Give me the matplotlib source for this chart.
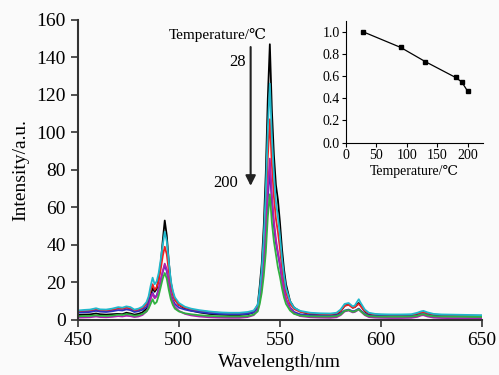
import matplotlib
matplotlib.use('Agg')
import matplotlib.pyplot as plt

plt.rcParams['font.family'] = ['Liberation Serif', 'DejaVu Serif']

# wavelength grid (nm)
wavelength = [450, 453, 456, 459, 461, 464, 467, 470, 472, 474,
              476, 478, 480, 482, 484, 485, 486, 487, 488, 489,
              490, 491, 492, 493, 494, 495, 496, 497, 498, 500,
              503, 506, 510, 515, 520, 525, 530, 534, 537, 539,
              540, 541, 542, 543, 544, 545, 546, 547, 548, 549,
              550, 551, 552, 553, 555, 557, 560, 565, 570, 575,
              578, 580, 582, 584, 586, 587, 589, 590, 592, 594,
              597, 600, 605, 610, 615, 618, 620, 621, 623, 626,
              630, 635, 640, 645, 650]

# emission spectra at each temperature
int_28 = [2.6, 2.8, 2.9, 3.4, 3.0, 2.8, 3.0, 3.2, 3.0, 3.8,
          3.4, 2.8, 3.2, 4.0, 6.0, 8.5, 13.0, 17.0, 15.0, 16.5,
          22.0, 30.0, 42.0, 53.0, 45.0, 31.0, 20.0, 14.5, 11.0, 8.0,
          6.0, 5.0, 4.0, 3.2, 2.8, 2.6, 2.6, 3.0, 4.0, 8.0,
          18.0, 30.0, 50.0, 78.0, 118.0, 147.0, 112.0, 88.0, 72.0, 64.0,
          52.0, 38.0, 27.0, 19.0, 10.0, 6.5, 4.5, 3.0, 2.6, 2.5,
          3.0, 4.5, 7.5, 8.5, 6.5, 6.8, 9.0, 7.5, 4.5, 3.0,
          2.5, 2.3, 2.2, 2.2, 2.3, 3.0, 4.0, 4.2, 3.5, 2.5,
          2.2, 2.0, 2.0, 1.9, 1.8]
int_90 = [5.0, 5.3, 5.5, 6.2, 5.6, 5.5, 6.0, 6.8, 6.5, 7.2,
          6.8, 5.5, 6.0, 7.0, 9.5, 12.5, 18.0, 22.5, 19.0, 20.5,
          25.0, 32.0, 40.0, 47.0, 42.0, 31.0, 21.0, 15.5, 12.0, 9.0,
          7.0, 6.0, 5.2, 4.5, 4.0, 3.8, 3.8, 4.2, 5.0, 8.0,
          16.0, 27.0, 44.0, 68.0, 102.0, 126.0, 98.0, 78.0, 63.0, 55.0,
          45.0, 33.0, 24.0, 17.0, 10.0, 6.5, 4.8, 3.8, 3.5, 3.4,
          3.8, 5.5, 8.5, 9.0, 7.2, 7.6, 11.0, 9.0, 5.5, 3.8,
          3.2, 3.0, 2.9, 2.9, 3.0, 3.8, 4.6, 4.8, 4.0, 3.2,
          2.9, 2.8, 2.7, 2.6, 2.5]
int_130 = [4.4, 4.6, 4.8, 5.4, 5.0, 4.8, 5.3, 6.0, 5.8, 6.5,
           6.0, 4.8, 5.3, 6.2, 8.5, 11.0, 15.5, 19.0, 16.0, 17.5,
           21.0, 27.0, 34.0, 39.0, 35.0, 26.0, 18.0, 13.5, 10.5, 8.0,
           6.5, 5.5, 4.8, 4.2, 3.8, 3.5, 3.5, 3.8, 4.5, 7.0,
           13.5, 23.0, 37.0, 58.0, 87.0, 107.0, 83.0, 66.0, 54.0, 47.0,
           38.0, 28.0, 20.0, 14.5, 8.5, 5.8, 4.3, 3.4, 3.1, 3.0,
           3.4, 4.8, 7.5, 8.0, 6.5, 6.8, 8.5, 7.3, 4.8, 3.4,
           2.9, 2.7, 2.6, 2.6, 2.7, 3.3, 3.9, 4.0, 3.4, 2.8,
           2.6, 2.5, 2.4, 2.3, 2.2]
int_180 = [1.2, 1.3, 1.4, 1.8, 1.5, 1.4, 1.6, 2.0, 1.8, 2.2,
           2.0, 1.5, 1.8, 2.6, 4.5, 7.0, 11.0, 14.0, 11.5, 12.5,
           16.0, 21.0, 26.0, 30.0, 27.0, 20.0, 13.5, 9.5, 7.0, 4.8,
           3.2, 2.4, 1.8, 1.4, 1.2, 1.1, 1.1, 1.5, 2.5, 5.0,
           10.5, 18.0, 29.5, 46.0, 70.0, 86.0, 67.0, 53.0, 43.0, 36.0,
           30.0, 22.0, 16.0, 11.0, 6.0, 3.5, 2.0, 1.4, 1.2, 1.1,
           1.4, 2.5, 4.5, 5.0, 4.0, 4.2, 5.5, 4.5, 2.5, 1.5,
           1.2, 1.1, 1.0, 1.0, 1.1, 1.6, 2.4, 2.5, 1.8, 1.2,
           1.0, 0.9, 0.9, 0.8, 0.8]
int_190 = [3.8, 4.0, 4.2, 4.8, 4.4, 4.2, 4.6, 5.2, 5.0, 5.6,
           5.2, 4.2, 4.6, 5.4, 7.0, 9.0, 12.5, 14.5, 12.0, 13.0,
           16.5, 21.0, 25.5, 29.0, 26.0, 20.0, 14.0, 10.5, 8.5, 6.5,
           5.5, 4.8, 4.2, 3.6, 3.2, 3.0, 3.0, 3.2, 4.0, 6.0,
           10.5, 17.5, 28.0, 43.0, 65.0, 80.0, 63.0, 50.0, 41.0, 35.0,
           29.0, 21.5, 15.5, 11.0, 6.5, 4.2, 3.0, 2.5, 2.3, 2.2,
           2.5, 3.3, 5.0, 5.5, 4.6, 4.8, 6.0, 5.0, 3.2, 2.4,
           2.1, 2.0, 1.9, 1.9, 2.0, 2.4, 3.0, 3.1, 2.6, 2.1,
           1.9, 1.8, 1.8, 1.7, 1.7]
int_200 = [1.9, 2.0, 2.1, 2.5, 2.2, 2.1, 2.3, 2.8, 2.6, 3.1,
           2.8, 2.2, 2.5, 3.2, 4.5, 6.0, 8.5, 11.0, 8.5, 9.5,
           13.0, 17.5, 22.0, 25.0, 22.0, 16.0, 11.0, 8.0, 6.0, 4.5,
           3.5, 3.0, 2.5, 2.1, 1.9, 1.8, 1.8, 2.0, 2.8, 4.5,
           8.5, 14.5, 23.5, 36.0, 55.0, 67.0, 52.0, 42.0, 35.0, 28.0,
           23.0, 17.0, 12.0, 8.5, 5.0, 3.2, 2.3, 1.9, 1.8, 1.8,
           2.0, 2.8, 4.8, 5.2, 4.3, 4.5, 5.6, 4.6, 2.8, 2.0,
           1.8, 1.7, 1.7, 1.7, 1.8, 2.2, 2.9, 3.0, 2.4, 1.9,
           1.8, 1.7, 1.7, 1.6, 1.6]

# inset: normalised peak intensity vs temperature
inset_temp = [28, 90, 130, 180, 190, 200]
inset_norm = [1.0, 0.858, 0.731, 0.587, 0.547, 0.461]

fig = plt.figure(figsize=(4.99, 3.75), dpi=100)
fig.patch.set_facecolor('#fafafa')
ax = fig.add_axes([0.156, 0.147, 0.81, 0.8])
ax.set_facecolor('#fafafa')

spectra = [(int_28, 'black'), (int_130, '#f02020'), (int_190, '#3030c0'),
           (int_180, '#b020b0'), (int_200, '#30b040'), (int_90, '#20b8cc')]
for vals, c in spectra:
    ax.plot(wavelength, vals, color=c, lw=1.3)

ax.set_xlim(450, 650)
ax.set_ylim(0, 160)
ax.set_xticks([450, 500, 550, 600, 650])
ax.set_yticks(range(0, 161, 20))
ax.tick_params(direction='out', labelsize=14, width=1.2, length=5, color='#333333')
for s in ['top', 'right']:
    ax.spines[s].set_visible(False)
for s in ['left', 'bottom']:
    ax.spines[s].set_linewidth(1.5)
    ax.spines[s].set_color('#333333')
ax.set_xlabel('Wavelength/nm', fontsize=14, labelpad=4)
ax.set_ylabel('Intensity/a.u.', fontsize=14, labelpad=5)

# temperature arrow
ax.annotate('', xy=(535.5, 70), xytext=(535.5, 147),
            arrowprops=dict(arrowstyle='-|>', color='#222222', lw=1.5,
                            mutation_scale=15))
ax.text(519, 152, 'Temperature/℃', fontsize=11, ha='center', va='center')
ax.text(533, 137.5, '28', fontsize=12, ha='right', va='center')
ax.text(523, 73, '200', fontsize=12, ha='center', va='center')

# inset
ins = fig.add_axes([0.693, 0.62, 0.275, 0.325])
ins.set_facecolor('#fafafa')
ins.plot(inset_temp, inset_norm, color='black', lw=0.9, marker='s', ms=3.5)
ins.set_xlim(0, 225)
ins.set_ylim(0, 1.1)
ins.set_xticks([0, 50, 100, 150, 200])
ins.set_yticks([0.0, 0.2, 0.4, 0.6, 0.8, 1.0])
ins.yaxis.set_major_formatter(matplotlib.ticker.FormatStrFormatter('%.1f'))
ins.tick_params(direction='out', labelsize=10, width=0.8, length=3, pad=1.5)
for s in ['top', 'right']:
    ins.spines[s].set_visible(False)
ins.set_xlabel('Temperature/℃', fontsize=10, labelpad=2)

plt.savefig('out.png', dpi=100, facecolor=fig.get_facecolor())
